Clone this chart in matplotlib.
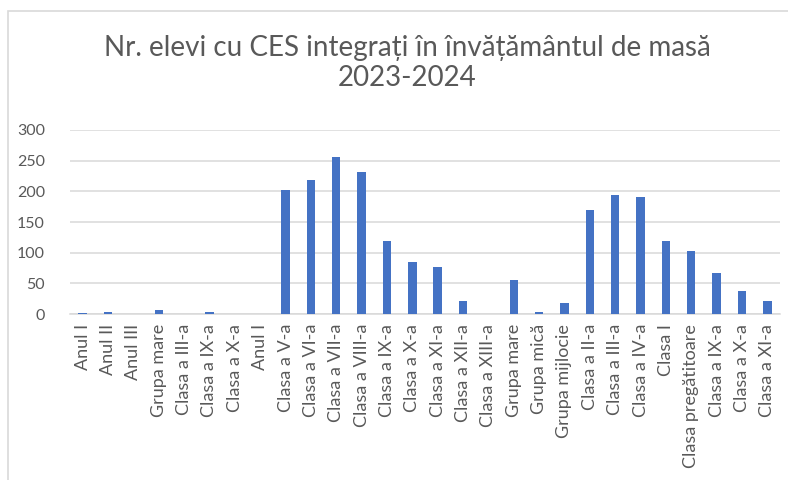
import matplotlib.pyplot as plt
import matplotlib.patches as patches

# categories as on the x axis (order kept from the sheet)
categorii = ['Anul I', 'Anul II', 'Anul III', 'Grupa mare', 'Clasa a III-a',
             'Clasa a IX-a', 'Clasa a X-a', 'Anul I', 'Clasa a V-a',
             'Clasa a VI-a', 'Clasa a VII-a', 'Clasa a VIII-a', 'Clasa a IX-a',
             'Clasa a X-a', 'Clasa a XI-a', 'Clasa a XII-a', 'Clasa a XIII-a',
             'Grupa mare', 'Grupa mică', 'Grupa mijlocie', 'Clasa a II-a',
             'Clasa a III-a', 'Clasa a IV-a', 'Clasa I', 'Clasa pregătitoare',
             'Clasa a IX-a', 'Clasa a X-a', 'Clasa a XI-a']
elevi = [2, 4, 0, 6, 0, 4, 0, 0, 202, 218, 256, 232, 119, 84, 77, 21, 0,
         56, 4, 18, 170, 194, 190, 119, 103, 67, 37, 21]
y_ticks = [0, 50, 100, 150, 200, 250, 300]

plt.rcParams['font.family'] = ['Lato', 'DejaVu Sans']

fig = plt.figure(figsize=(7.88, 4.8), dpi=100)
ax = fig.add_axes([70 / 788, 1 - 314 / 480, 710 / 788, 184 / 480])

x = list(range(len(categorii)))
ax.bar(x, elevi, width=0.33, color='#4472C4', zorder=3)

ax.set_xlim(-0.5, len(categorii) - 0.5)
ax.set_ylim(0, 300)
ax.set_yticks(y_ticks)
ax.set_yticklabels([str(v) for v in y_ticks], color='#595959', fontsize=11.5)
ax.set_xticks(x)
ax.set_xticklabels(categorii, rotation=90, color='#595959', fontsize=13)
ax.tick_params(axis='both', length=0)
ax.tick_params(axis='y', pad=18)
ax.tick_params(axis='x', pad=7)

ax.grid(axis='y', color='#d9d9d9', linewidth=1.1, zorder=0)
for s in ['top', 'right', 'left']:
    ax.spines[s].set_visible(False)
ax.spines['bottom'].set_color('#d9d9d9')
ax.spines['bottom'].set_linewidth(1.1)

fig.text(407 / 788, 1 - 63 / 480,
         'Nr. elevi cu CES integrați în învățământul de masă\n2023-2024',
         ha='center', va='center', fontsize=20, color='#595959',
         linespacing=1.15)

# chart frame (cut off at right and bottom in the screenshot)
frame = patches.Rectangle((8 / 788, -0.1), 1.2, 1 - 11 / 480 + 0.1,
                          transform=fig.transFigure, fill=False,
                          edgecolor='#d9d9d9', linewidth=1.2)
fig.patches.append(frame)

fig.savefig('out.png', dpi=100)
